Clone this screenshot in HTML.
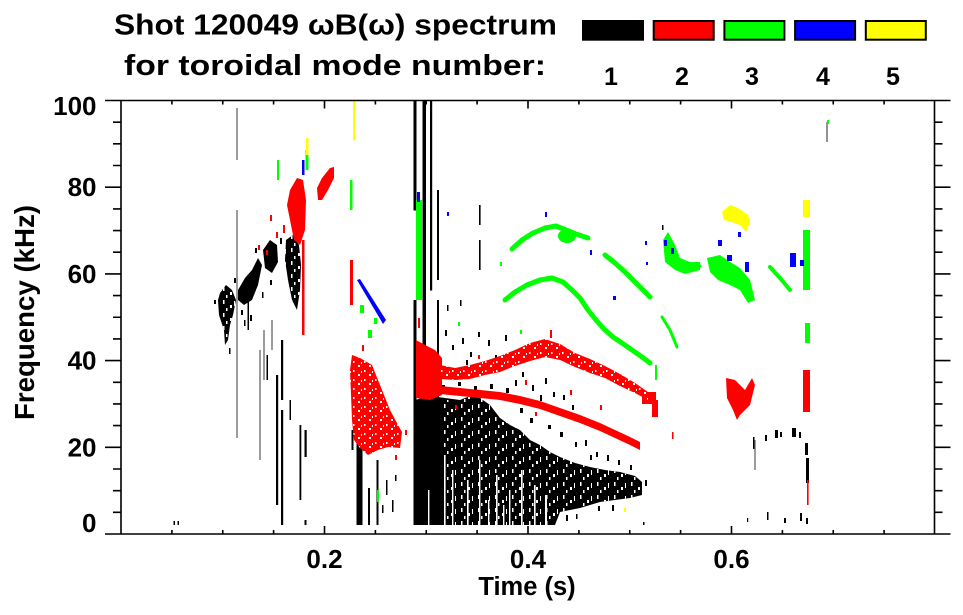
<!DOCTYPE html>
<html><head><meta charset="utf-8"><style>
html,body{margin:0;padding:0;background:#fff;}
svg{display:block;}
text{font-family:"Liberation Sans",Arial,sans-serif;font-weight:bold;fill:#000;}
</style></head><body>
<svg width="963" height="615" viewBox="0 0 963 615" xmlns="http://www.w3.org/2000/svg">
<defs>
<pattern id="wn" width="17" height="13" patternUnits="userSpaceOnUse">
<rect x="2" y="1" width="1.5" height="4" fill="#fff"/>
<rect x="9" y="6" width="2" height="3" fill="#fff"/>
<rect x="13" y="2" width="1" height="5" fill="#fff"/>
<rect x="5" y="9" width="1.5" height="3" fill="#fff"/>
</pattern>
<pattern id="wn2" width="11" height="9" patternUnits="userSpaceOnUse">
<rect x="1" y="1" width="1.5" height="2" fill="#fff"/>
<rect x="6" y="5" width="2" height="2" fill="#fff"/>
<rect x="9" y="2" width="1" height="2" fill="#fff"/>
</pattern>
</defs>
<rect width="963" height="615" fill="#fff"/>

<!-- Title & legend -->
<text x="114" y="34.3" font-size="29" textLength="443" lengthAdjust="spacingAndGlyphs">Shot 120049 ωB(ω) spectrum</text>
<text x="124" y="75" font-size="29" textLength="422" lengthAdjust="spacingAndGlyphs">for toroidal mode number:</text>
<rect x="582" y="20" width="62" height="20.7" fill="#000"/>
<rect x="653.7" y="21" width="60" height="18.7" fill="#f00" stroke="#000" stroke-width="2"/>
<rect x="724.4" y="21" width="60" height="18.7" fill="#0f0" stroke="#000" stroke-width="2"/>
<rect x="795.1" y="21" width="60" height="18.7" fill="#00f" stroke="#000" stroke-width="2"/>
<rect x="865.8" y="21" width="60" height="18.7" fill="#ff0" stroke="#000" stroke-width="2"/>
<g font-size="25" text-anchor="middle">
<text x="611" y="85">1</text><text x="682" y="85">2</text><text x="752" y="85">3</text><text x="823" y="85">4</text><text x="893" y="85">5</text>
</g>

<!-- DATA -->
<g id="data">
<!-- black n=1 -->
<g fill="#000">
<rect x="173.5" y="521" width="1.5" height="4"/><rect x="177.5" y="521" width="1.5" height="4"/>
<polygon points="220,293 226,285 232,290 236,300 233,315 230,325 228,340 225,345 224,330 219,315 218,300"/>
<polygon points="238,290 245,278 252,270 258,258 262,265 258,285 252,300 244,305 238,300"/>
<polygon points="263,250 270,240 277,245 278,262 272,273 265,268"/>
<polygon points="286,240 293,235 299,245 301,265 300,290 297,310 292,300 288,280 285,260"/>
<rect x="276" y="375" width="2.2" height="130"/>
<rect x="281" y="340" width="2.2" height="60"/><rect x="281" y="410" width="2.2" height="115"/>
<rect x="299.5" y="425" width="1.8" height="75"/>
<rect x="304.5" y="430" width="2.2" height="27"/><rect x="304.5" y="520" width="2" height="5"/>
<rect x="266.5" y="355" width="1.5" height="25"/>
<rect x="247.5" y="300" width="1.5" height="30"/>
<rect x="289.5" y="400" width="1.5" height="20"/>
<rect x="241" y="310" width="2" height="5"/><rect x="250" y="315" width="2" height="6"/><rect x="270" y="280" width="2" height="5"/>
<rect x="214" y="300" width="2" height="4"/><rect x="234" y="278" width="2" height="5"/><rect x="255" y="248" width="2" height="5"/><rect x="280" y="238" width="2" height="6"/>
<rect x="229" y="348" width="1.5" height="6"/><rect x="244" y="320" width="1.5" height="6"/><rect x="262" y="292" width="1.5" height="6"/>
<!-- t ~0.23 -->
<rect x="356.5" y="440" width="6" height="85"/>
<rect x="376.5" y="460" width="2" height="65"/>
<rect x="368" y="488" width="2" height="37"/>
<rect x="351.5" y="430" width="2" height="20"/>
<rect x="386" y="480" width="1.5" height="15"/><rect x="392" y="500" width="1.5" height="12"/>
<rect x="395" y="475" width="1.5" height="6"/><rect x="382" y="505" width="1.5" height="8"/>
<!-- t ~0.29-0.31 streaks -->
<rect x="413.5" y="100.5" width="3" height="110"/>
<rect x="413.5" y="300" width="3" height="225"/>
<rect x="422.5" y="100.5" width="3.5" height="424.5"/>
<rect x="430" y="100.5" width="2.2" height="190"/>
<rect x="437" y="190" width="2" height="90"/><rect x="437" y="300" width="2" height="110"/>
<rect x="479" y="205" width="1.6" height="20"/><rect x="479" y="240" width="1.6" height="30"/>
<!-- big blob -->
<polygon points="415,400 430,396 445,398 460,400 470,396 480,398 490,405 500,418 510,425 520,430 530,440 540,445 550,452 560,457 575,463 590,467 605,470 620,472 635,476 642,482 642,495 630,498 615,500 600,502 590,505 580,508 570,510 560,512 555,525 415,525"/>
<!-- speckles above blob -->
<rect x="445" y="330" width="2" height="6"/><rect x="452" y="345" width="2" height="5"/><rect x="462" y="338" width="2" height="6"/>
<rect x="470" y="352" width="2" height="5"/><rect x="478" y="332" width="2" height="5"/><rect x="488" y="340" width="2" height="6"/>
<rect x="495" y="355" width="2" height="5"/><rect x="505" y="335" width="2" height="6"/><rect x="515" y="380" width="2" height="6"/>
<rect x="522" y="372" width="2" height="5"/><rect x="532" y="385" width="2" height="6"/><rect x="545" y="378" width="2" height="6"/>
<rect x="553" y="392" width="2" height="5"/><rect x="563" y="395" width="2" height="5"/><rect x="572" y="405" width="2" height="5"/>
<rect x="585" y="440" width="2" height="6"/><rect x="596" y="452" width="2" height="5"/><rect x="607" y="455" width="2" height="6"/>
<rect x="447" y="305" width="1.5" height="6"/><rect x="460" y="300" width="1.5" height="6"/>
<rect x="442" y="385" width="3" height="4"/><rect x="458" y="382" width="3" height="4"/><rect x="474" y="386" width="3" height="4"/>
<rect x="490" y="384" width="3" height="5"/><rect x="506" y="388" width="3" height="5"/><rect x="520" y="408" width="3" height="5"/>
<rect x="530" y="418" width="3" height="5"/><rect x="548" y="425" width="3" height="4"/><rect x="560" y="432" width="3" height="5"/>
<rect x="575" y="442" width="2" height="5"/><rect x="590" y="455" width="2" height="5"/><rect x="618" y="460" width="2" height="5"/>
<rect x="630" y="465" width="2" height="5"/><rect x="645" y="480" width="2" height="6"/><rect x="566" y="515" width="2" height="6"/>
<rect x="576" y="514" width="1.5" height="5"/><rect x="598" y="506" width="2" height="5"/><rect x="612" y="505" width="2" height="6"/>
<rect x="540" y="395" width="2" height="6"/><rect x="500" y="395" width="2" height="5"/><rect x="466" y="360" width="2" height="5"/>
<!-- late black -->
<rect x="753" y="437" width="1.5" height="12"/><rect x="765" y="435" width="2" height="6"/>
<rect x="775" y="430" width="3" height="8"/><rect x="780" y="432" width="2" height="5"/>
<rect x="792" y="428" width="4" height="9"/><rect x="799" y="432" width="2" height="6"/>
<rect x="805" y="443" width="3" height="12"/><rect x="806" y="458" width="3" height="25"/>
<rect x="784" y="518" width="2" height="5"/><rect x="800" y="513" width="2" height="8"/><rect x="806" y="518" width="2" height="6"/>
<rect x="747" y="518" width="1.2" height="4"/><rect x="767" y="512" width="1.5" height="8"/>
<rect x="640" y="490" width="2" height="5"/><rect x="643" y="522" width="1.5" height="3"/>
<rect x="662" y="225" width="1.5" height="5"/>
</g>
<!-- gray thin lines -->
<g stroke="#666" stroke-width="1.3" fill="none">
<path d="M237 108V160M237 210V438M260 350V460M264 330V380M272 320V350M755 440V470"/>
<path d="M827 122V142" stroke="#777" stroke-width="1.6"/>
</g>
<!-- white gaps in blob -->
<g fill="#fff">
<rect x="444" y="455" width="1.6" height="70"/><rect x="452" y="470" width="1.4" height="55"/>
<rect x="467" y="480" width="1.6" height="45"/><rect x="479" y="460" width="1.4" height="65"/>
<rect x="496" y="475" width="1.6" height="50"/><rect x="509" y="490" width="1.4" height="35"/>
<rect x="521" y="470" width="1.6" height="55"/><rect x="534" y="485" width="1.6" height="40"/>
<rect x="545" y="495" width="2" height="30"/><rect x="428" y="490" width="1.4" height="35"/>
<rect x="488" y="500" width="1.4" height="25"/><rect x="503" y="505" width="1.4" height="20"/>
</g>
<polygon fill="url(#wn)" points="440,400 460,400 470,396 480,398 490,405 500,418 510,425 520,430 530,440 540,445 550,452 560,457 575,463 590,467 605,470 620,472 635,476 642,482 642,495 630,498 615,500 600,502 590,505 580,508 570,510 560,512 555,525 440,525"/>
<polygon fill="url(#wn)" points="220,293 226,285 232,290 236,300 233,315 230,325 228,340 225,345 224,330 219,315 218,300"/>
<polygon fill="url(#wn)" points="286,240 293,235 299,245 301,265 300,290 297,310 292,300 288,280 285,260"/>

<!-- red n=2 -->
<g fill="#f00">
<polygon points="290,190 297,178 303,180 306,200 305,230 300,245 294,240 290,220 287,205"/>
<rect x="302" y="240" width="2.5" height="95"/>
<polygon points="317,188 322,178 330,168 334,167 334,178 328,190 322,200 318,200"/>
<rect x="270" y="215" width="2" height="6"/><rect x="276" y="232" width="2" height="6"/><rect x="266" y="250" width="2" height="5"/><rect x="283" y="225" width="2" height="8"/><rect x="258" y="245" width="2" height="5"/>
<rect x="350" y="260" width="3" height="45"/>
<polygon points="352,355 360,358 372,365 380,385 390,410 398,425 402,432 400,448 388,447 378,450 368,455 360,448 354,440 352,420 351,395 350,370"/>
<polygon points="416,340 425,345 435,350 442,358 442,395 430,400 416,398"/>
<polygon points="440,365 455,368 470,365 485,361 500,356 515,350 530,343 545,339 560,344 575,353 590,359 605,366 620,374 635,383 648,392 648,400 635,393 620,386 605,378 590,373 575,367 560,360 545,357 530,361 515,366 500,372 485,375 470,379 455,380 440,379"/>
<polygon points="440,386 460,388 480,390 500,392 520,396 540,401 560,408 580,415 600,423 615,430 630,437 640,442 640,450 630,445 615,438 600,431 580,423 560,416 540,409 520,404 500,400 480,398 460,396 440,394"/>
<rect x="550" y="330" width="2" height="8"/><rect x="418" y="318" width="2" height="10"/>
<rect x="642" y="392" width="14" height="12"/><rect x="652" y="400" width="6" height="17"/>
<polygon points="726,378 735,380 745,390 752,378 755,385 750,405 740,415 737,420 733,410 727,398"/>
<rect x="803" y="370" width="7" height="42"/>
<rect x="807" y="480" width="1.6" height="25"/>
<rect x="672" y="432" width="1.5" height="7"/>
<rect x="405" y="430" width="2" height="5"/><rect x="395" y="455" width="2" height="5"/><rect x="362" y="345" width="2" height="6"/>
<rect x="478" y="355" width="2" height="4"/><rect x="525" y="380" width="2" height="5"/><rect x="570" y="390" width="2" height="5"/>
<rect x="600" y="405" width="2" height="5"/><rect x="455" y="405" width="2" height="4"/><rect x="535" y="412" width="2" height="4"/>
</g>
<polygon fill="url(#wn2)" points="352,355 360,358 372,365 380,385 390,410 398,425 402,432 400,448 388,447 378,450 368,455 360,448 354,440 352,420 351,395 350,370"/>
<polygon fill="url(#wn2)" points="440,365 455,368 470,365 485,361 500,356 515,350 530,343 545,339 560,344 575,353 590,359 605,366 620,374 635,383 648,392 648,400 635,393 620,386 605,378 590,373 575,367 560,360 545,357 530,361 515,366 500,372 485,375 470,379 455,380 440,379"/>

<!-- green n=3 -->
<g fill="none" stroke="#0f0" stroke-linejoin="round" stroke-linecap="round">
<polyline stroke-width="5" points="505,300 515,292 527,285 540,280 552,278 563,282 572,290 580,298 588,310 596,320 604,329 613,337 622,343 632,350 642,357 650,363"/>
<polyline stroke-width="5" points="512,249 522,240 533,233 545,228 556,226 566,230 576,234 588,238"/>
<polyline stroke-width="5" points="605,255 615,263 625,272 635,282 645,292 650,297"/>
<polyline stroke-width="3" points="662,317 670,330 677,347"/>
<polyline stroke-width="4" points="770,267 780,278 790,290"/>
<polyline stroke-width="3" points="680,266 700,266"/>
</g>
<g fill="#0f0">
<ellipse cx="567" cy="236" rx="9" ry="7"/>
<rect x="416" y="200" width="6" height="100"/>
<rect x="350" y="180" width="2.5" height="30"/>
<rect x="305.5" y="150" width="3" height="20"/>
<rect x="277" y="160" width="2" height="20"/>
<rect x="360" y="305" width="4" height="8"/><rect x="368" y="330" width="4" height="8"/><rect x="374" y="318" width="3" height="6"/>
<polygon points="663,240 668,232 675,245 680,258 690,262 700,262 700,270 685,274 675,270 665,262"/>
<polygon points="707,258 720,255 730,262 740,268 750,280 755,300 748,303 740,290 730,285 718,280 710,272"/>
<rect x="803" y="230" width="7" height="60"/>
<rect x="805" y="323" width="5" height="20"/>
<rect x="655" y="365" width="2" height="15"/>
<rect x="377" y="490" width="2" height="12"/>
<rect x="827" y="120" width="2" height="4"/>
<rect x="500" y="262" width="2" height="4"/><rect x="520" y="330" width="2" height="4"/><rect x="458" y="322" width="2" height="4"/>
</g>

<!-- blue n=4 -->
<g fill="#00f">
<polygon points="357,280 360,279 386,320 383,324"/>
<rect x="417" y="192" width="3" height="10"/>
<rect x="302" y="160" width="2.5" height="15"/>
<rect x="545" y="212" width="2" height="5"/><rect x="590" y="250" width="2" height="5"/><rect x="613" y="296" width="3" height="4"/>
<rect x="646" y="262" width="2" height="3"/><rect x="645" y="241" width="2" height="4"/>
<rect x="664" y="240" width="3" height="6"/><rect x="671" y="248" width="3" height="6"/>
<rect x="718" y="240" width="4" height="6"/><rect x="727" y="255" width="5" height="6"/><rect x="745" y="262" width="4" height="10"/><rect x="738" y="232" width="3" height="5"/>
<rect x="790" y="253" width="6" height="14"/><rect x="800" y="260" width="4" height="6"/>
<rect x="447" y="212" width="2" height="4"/>
</g>

<!-- yellow n=5 -->
<g fill="#ff0">
<rect x="353" y="100.5" width="2.5" height="40"/>
<rect x="306" y="138" width="2.5" height="17"/>
<polygon points="722,212 730,205 738,208 748,215 750,222 746,232 740,225 732,222 724,220"/>
<rect x="803" y="200" width="7" height="17"/>
<rect x="624" y="508" width="2" height="4"/>
</g>
</g>

<!-- AXES -->
<g stroke="#000" stroke-width="1.6" fill="none">
<path d="M105 534H950.5M105 100.5H950.5M121 100.5V534M934.5 100.5V534"/>
<path d="M105 447.3H121M105 360.6H121M105 273.9H121M105 187.2H121
M113 512.3H121M113 490.65H121M113 469H121M113 425.6H121M113 403.95H121M113 382.3H121M113 338.9H121M113 317.25H121M113 295.6H121M113 252.2H121M113 230.55H121M113 208.9H121M113 165.5H121M113 143.85H121M113 122.2H121
M934.5 447.3H950.5M934.5 360.6H950.5M934.5 273.9H950.5M934.5 187.2H950.5
M934.5 512.3H942.5M934.5 490.65H942.5M934.5 469H942.5M934.5 425.6H942.5M934.5 403.95H942.5M934.5 382.3H942.5M934.5 338.9H942.5M934.5 317.25H942.5M934.5 295.6H942.5M934.5 252.2H942.5M934.5 230.55H942.5M934.5 208.9H942.5M934.5 165.5H942.5M934.5 143.85H942.5M934.5 122.2H942.5
M324.5 534V526M528 534V526M731.5 534V526
M171.9 534V530M222.75 534V530M273.6 534V530M375.4 534V530M426.25 534V530M477.1 534V530M578.9 534V530M629.75 534V530M680.6 534V530M782.4 534V530M833.25 534V530M884.1 534V530
M324.5 100.5V108.5M528 100.5V108.5M731.5 100.5V108.5
M171.9 100.5V104.5M222.75 100.5V104.5M273.6 100.5V104.5M375.4 100.5V104.5M426.25 100.5V104.5M477.1 100.5V104.5M578.9 100.5V104.5M629.75 100.5V104.5M680.6 100.5V104.5M782.4 100.5V104.5M833.25 100.5V104.5M884.1 100.5V104.5"/>
</g>

<!-- tick labels -->
<g font-size="26" text-anchor="end">
<text x="96.5" y="115">100</text>
<text x="96.5" y="196">80</text>
<text x="96.5" y="283">60</text>
<text x="96.5" y="369.6">40</text>
<text x="96.5" y="456.3">20</text>
<text x="96.5" y="532">0</text>
</g>
<g font-size="26" text-anchor="middle">
<text x="324.5" y="568">0.2</text>
<text x="528" y="568">0.4</text>
<text x="731.5" y="568">0.6</text>
<text x="527" y="595" font-size="25.5">Time (s)</text>
</g>
<text transform="translate(34,312.5) rotate(-90)" font-size="28" text-anchor="middle" textLength="215" lengthAdjust="spacingAndGlyphs">Frequency (kHz)</text>
</svg>
</body></html>
